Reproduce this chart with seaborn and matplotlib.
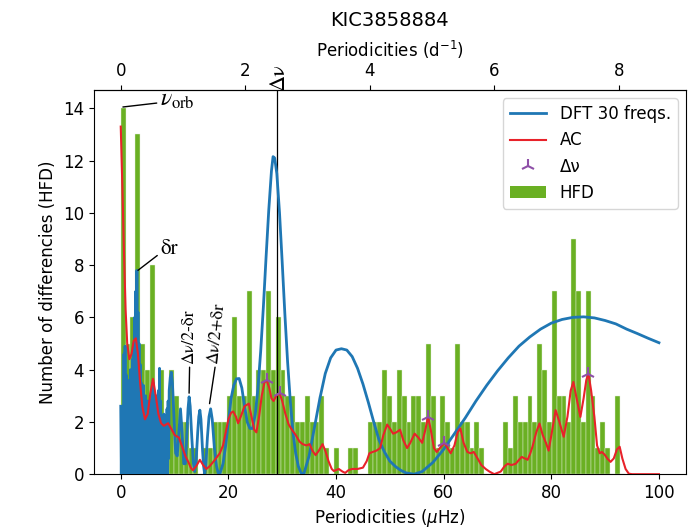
import numpy as np
import pandas as pd
import matplotlib
matplotlib.use('Agg')
import matplotlib.pyplot as plt
import matplotlib.transforms as mtransforms
from matplotlib.lines import Line2D
from matplotlib.patches import Patch
import seaborn as sns

# ---------------- data ----------------
hfd_bin_width = 0.9
hfd_counts = [14, 5, 6, 13, 5, 4, 8, 3, 4, 2, 4, 3, 2, 2, 1, 1, 0, 1, 1, 2,
              2, 2, 3, 6, 3, 3, 7, 3, 4, 4, 7, 4, 6, 4, 3, 3, 2, 2, 3, 2,
              2, 3, 1, 0, 1, 0, 0, 1, 1, 0, 0, 2, 2, 2, 4, 3, 2, 4, 3, 2,
              3, 3, 2, 5, 3, 1, 3, 2, 1, 5, 2, 2, 1, 2, 1, 0, 0, 0, 0, 2,
              1, 3, 2, 2, 3, 2, 5, 4, 2, 7, 3, 3, 2, 9, 7, 2, 7, 3, 1, 2,
              1, 0, 3, 0]

dft_freq = [0.0, 0.1, 0.2, 0.3, 0.4, 0.5, 0.6, 0.7, 0.8, 0.9, 1.0, 1.1, 1.2, 1.3, 1.4,
            1.5, 1.6, 1.7, 1.8, 1.9, 2.0, 2.1, 2.2, 2.3, 2.4, 2.5, 2.6, 2.7, 2.8, 2.9,
            3.0, 3.1, 3.2, 3.3, 3.4, 3.5, 3.6, 3.7, 3.8, 3.9, 4.0, 4.1, 4.2, 4.3, 4.4,
            4.5, 4.6, 4.7, 4.8, 4.9, 5.0, 5.1, 5.2, 5.3, 5.4, 5.5, 5.6, 5.7, 5.8, 5.9,
            6.0, 6.1, 6.2, 6.3, 6.4, 6.5, 6.6, 6.7, 6.8, 6.9, 7.0, 7.1, 7.2, 7.3, 7.4,
            7.5, 7.6, 7.7, 7.8, 7.9, 8.0, 8.1, 8.2, 8.3, 8.4, 8.5, 8.6, 8.7, 8.8, 8.9,
            9.0, 9.2, 9.4, 9.6, 9.8, 10.0, 10.2, 10.5, 10.8, 11.1, 11.4, 11.7, 12.0,
            12.3, 12.5, 12.7, 12.9, 13.2, 13.5, 13.75, 14.0, 14.3, 14.5, 14.7, 14.9,
            15.2, 15.4, 15.6, 15.8, 16.1, 16.4, 16.7, 17.0, 17.4, 17.8, 18.1, 18.4,
            19.0, 19.5, 20.0, 20.5, 21.0, 21.5, 22.0, 22.5, 23.0, 23.5, 24.0, 24.5,
            25.0, 25.5, 26.0, 26.5, 27.0, 27.5, 28.0, 28.3, 28.6, 29.0, 29.5, 30.0,
            30.5, 31.0, 31.5, 32.0, 32.5, 33.0, 33.5, 34.0, 35.0, 36.0, 37.0, 38.0,
            39.0, 40.0, 41.0, 42.0, 43.0, 44.0, 45.0, 46.0, 47.0, 48.0, 49.0, 50.0,
            51.0, 52.0, 53.0, 54.5, 56.0, 58.0, 60.0, 62.0, 64.0, 66.0, 68.0, 70.0,
            72.0, 74.0, 76.0, 78.0, 80.0, 82.0, 84.0, 86.0, 88.0, 90.0, 92.0, 94.0,
            96.0, 98.0, 100.0]
dft_amp = [2.6, 0.0, 2.5, 0.1, 2.6, 0.0, 4.6, 0.2, 4.9, 0.0, 3.8, 0.1, 3.4, 0.0, 2.8,
           0.1, 3.6, 0.0, 4.0, 0.2, 3.2, 0.0, 4.4, 0.1, 5.0, 0.0, 6.0, 0.3, 7.0, 0.0,
           7.8, 0.2, 6.2, 0.0, 5.0, 0.1, 4.2, 0.0, 3.5, 0.2, 3.0, 0.0, 3.4, 0.1, 2.6,
           0.0, 3.0, 0.2, 2.4, 0.0, 2.8, 0.1, 2.2, 0.0, 2.8, 0.2, 2.5, 0.0, 3.2, 0.1,
           3.5, 0.0, 3.0, 0.2, 2.6, 0.0, 3.0, 0.1, 2.4, 0.0, 3.2, 0.3, 4.05, 0.2, 2.8,
           0.0, 2.2, 0.1, 2.0, 0.0, 2.3, 0.2, 1.8, 0.0, 2.2, 0.1, 2.5, 0.0, 2.8, 0.6,
           3.2, 3.7, 3.9, 3.5, 2.6, 1.6, 0.8, 0.7, 1.6, 2.5, 1.6, 0.4, 0.4,
           1.6, 2.5, 2.96, 2.6, 1.4, 0.4, 0.1, 0.5, 1.6, 2.2, 2.45, 2.1,
           0.9, 0.3, 0.0, 0.3, 1.4, 2.2, 2.5, 2.1, 1.0, 0.3, 0.05, 0.0,
           0.4, 1.1, 2.0, 2.9, 3.4, 3.65, 3.66, 3.3, 2.6, 2.0, 1.75, 1.75,
           2.3, 3.3, 4.7, 6.4, 8.3, 10.1, 11.6, 12.15, 12.1, 11.5, 10.0, 8.1,
           6.1, 4.3, 2.8, 1.6, 0.8, 0.3, 0.05, 0.0, 0.7, 1.8, 2.9, 3.85,
           4.45, 4.75, 4.8, 4.75, 4.5, 4.05, 3.45, 2.75, 2.0, 1.3, 0.85, 0.5,
           0.3, 0.15, 0.05, 0.0, 0.1, 0.45, 0.95, 1.55, 2.15, 2.8, 3.4, 3.95,
           4.45, 4.9, 5.25, 5.55, 5.78, 5.92, 6.0, 6.02, 5.98, 5.88, 5.75, 5.55,
           5.38, 5.2, 5.03]

ac_freq = [0.0, 0.3, 0.6, 0.9, 1.2, 1.6, 2.0, 2.4, 2.8, 3.2, 3.6, 4.0, 4.5, 5.0, 5.5,
           6.0, 6.5, 7.0, 7.5, 8.0, 8.8, 9.5, 10.0, 10.8, 11.5, 12.0, 12.6, 13.0, 13.4,
           14.0, 14.7, 15.3, 15.9, 16.5, 17.5, 18.4, 19.0, 19.5, 20.0, 20.5, 20.9,
           21.4, 21.8, 22.3, 23.0, 23.8, 24.3, 24.8, 25.2, 25.7, 26.2, 26.7, 27.1,
           27.6, 28.0, 28.4, 28.9, 29.5, 30.0, 30.6, 31.2, 31.8, 32.5, 33.2, 33.8,
           34.5, 35.1, 35.6, 36.2, 36.8, 37.5, 38.0, 38.6, 39.2, 39.6, 40.5, 41.2,
           41.7, 42.3, 43.0, 44.0, 45.0, 45.7, 46.2, 46.8, 47.5, 48.2, 48.8, 49.5,
           50.0, 50.6, 51.2, 51.9, 52.5, 53.2, 53.8, 54.6, 55.3, 56.0, 56.6, 57.1,
           57.6, 58.2, 58.7, 59.3, 60.1, 60.7, 61.3, 62.0, 62.6, 63.1, 63.7, 64.4,
           65.0, 65.6, 66.3, 67.0, 67.8, 68.5, 69.4, 70.6, 71.3, 71.9, 72.6, 73.4,
           74.0, 74.5, 75.1, 75.6, 76.1, 76.5, 77.2, 77.8, 78.4, 79.0, 79.5, 80.1,
           80.8, 81.5, 82.3, 83.0, 83.6, 84.1, 84.7, 85.4, 86.0, 86.5, 86.9, 87.4,
           88.0, 88.5, 89.0, 89.4, 89.9, 90.4, 91.0, 91.6, 92.2, 92.7, 93.2, 93.8,
           94.4, 95.0, 100.0]
ac_val = [13.3, 11.0, 8.5, 6.3, 5.0, 4.4, 4.6, 5.1, 5.2, 4.6, 3.5, 2.6, 2.1, 2.3, 3.1,
          3.65, 3.0, 2.3, 1.95, 1.85, 1.95, 1.7, 1.5, 1.4, 1.0, 0.7, 0.45, 0.25, 0.15,
          0.3, 0.55, 0.35, 0.2, 0.3, 0.55, 0.8, 1.1, 1.6, 2.1, 2.35, 2.4,
          2.2, 1.95, 2.2, 2.6, 2.7, 2.2, 1.7, 1.6, 2.2, 3.0, 3.5, 3.6,
          3.3, 2.9, 2.8, 3.0, 3.1, 2.8, 2.3, 1.9, 1.7, 1.5, 1.25, 1.15,
          1.1, 1.15, 0.9, 0.73, 0.9, 1.15, 0.9, 0.5, 0.2, 0.12, 0.2, 0.1,
          0.05, 0.15, 0.2, 0.2, 0.25, 0.5, 0.8, 0.85, 0.9, 1.0, 1.5, 1.9,
          1.75, 1.55, 1.6, 1.7, 1.3, 1.0, 1.2, 1.55, 1.4, 1.2, 1.7, 2.2,
          1.7, 1.0, 0.85, 1.0, 1.2, 1.0, 0.8, 1.1, 1.6, 1.75, 1.2, 0.85,
          0.8, 0.85, 0.6, 0.35, 0.2, 0.1, 0.0, 0.1, 0.3, 0.4, 0.35, 0.4,
          0.55, 0.66, 0.6, 0.55, 0.8, 1.05, 1.6, 1.94, 1.5, 1.2, 0.9, 1.6,
          2.45, 2.0, 1.43, 2.2, 3.2, 3.53, 2.9, 2.19, 2.9, 3.6, 3.85, 3.2,
          2.2, 1.1, 0.8, 0.85, 0.75, 0.6, 0.47, 0.6, 0.95, 1.05, 0.6, 0.2,
          0.02, 0.0, 0.0]

dnu_freq = [27.1, 29.5, 57.1, 60.1, 86.9]
dnu_val = [3.6, 3.1, 2.2, 1.2, 3.85]
delta_nu = 29.1
uhz_per_cd = 11.574

# ---------------- style ----------------
c_dft = '#1f77b4'
c_ac = '#e8222a'
c_dnu = '#8e4fa8'
c_hfd = '#6ab023'
serif = ['STIXGeneral', 'Liberation Serif', 'DejaVu Serif']

fig = plt.figure(figsize=(6.9, 5.31), dpi=100)
ax = fig.add_axes([0.136, 0.107, 0.858, 0.7235])

edges = np.arange(len(hfd_counts) + 1) * hfd_bin_width
hfd_df = pd.DataFrame({'freq': edges[:-1] + hfd_bin_width / 2,
                       'count': hfd_counts})
sns.histplot(data=hfd_df, x='freq', weights='count', bins=list(edges), ax=ax,
             color=c_hfd, alpha=1.0, edgecolor='#e6f0dc', linewidth=0.3, zorder=1)

ax.axvline(delta_nu, color='black', lw=0.9, zorder=2)
sns.lineplot(x=dft_freq, y=dft_amp, ax=ax, color=c_dft, lw=2.0, zorder=3,
             estimator=None, sort=False)
sns.lineplot(x=ac_freq, y=ac_val, ax=ax, color=c_ac, lw=1.5, zorder=4,
             estimator=None, sort=False)
ax.plot(dnu_freq, dnu_val, linestyle='none', marker='2', color=c_dnu,
        markersize=10, markeredgewidth=1.5, zorder=5)

ax.set_xlim(-5, 105)
ax.set_ylim(0, 14.7)
ax.set_xticks([0, 20, 40, 60, 80, 100])
ax.set_yticks([0, 2, 4, 6, 8, 10, 12, 14])
ax.tick_params(labelsize=12)
ax.set_xlabel(r'Periodicities ($\mu$Hz)', fontsize=12)
ax.set_ylabel('Number of differencies (HFD)', fontsize=12)

secax = ax.secondary_xaxis('top', functions=(lambda x: x / uhz_per_cd,
                                             lambda x: x * uhz_per_cd))
secax.set_xticks([0, 2, 4, 6, 8])
secax.tick_params(labelsize=12)
secax.set_xlabel(r'Periodicities (d$^{-1}$)', fontsize=12)

fig.text(0.565, 1 - 20 / 531, 'KIC3858884', ha='center', va='center', fontsize=14)

# annotations
trans = mtransforms.blended_transform_factory(ax.transData, ax.transAxes)
ax.text(delta_nu + 0.3, 1.0, 'Δν', transform=trans, rotation=90, ha='center',
        va='bottom', fontsize=16, family=serif, clip_on=False)
ax.annotate(r'$\nu_{\rm orb}$', xy=(0.4, 14.05), xytext=(7.2, 14.35),
            ha='left', va='center', fontsize=17, math_fontfamily='stix',
            arrowprops=dict(arrowstyle='-', color='black', lw=1.0,
                            relpos=(0, 0.35), shrinkA=0, shrinkB=0),
            annotation_clip=False)
ax.annotate('δr', xy=(3.2, 7.8), xytext=(7.3, 8.6), ha='left', va='center',
            fontsize=15, family=serif,
            arrowprops=dict(arrowstyle='-', color='black', lw=1.0,
                            relpos=(0, 0.3), shrinkA=0, shrinkB=0))
ax.annotate('Δν/2-δr', xy=(12.7, 3.1), xytext=(12.8, 4.2), rotation=90,
            ha='center', va='bottom', fontsize=12.5, family=serif,
            arrowprops=dict(arrowstyle='-', color='black', lw=1.0,
                            relpos=(0.5, 0), shrinkA=0, shrinkB=0))
ax.annotate('Δν/2+δr', xy=(16.5, 2.7), xytext=(17.6, 4.2), rotation=84,
            ha='center', va='bottom', fontsize=12.5, family=serif,
            arrowprops=dict(arrowstyle='-', color='black', lw=1.0,
                            relpos=(0.5, 0), shrinkA=0, shrinkB=0))

handles = [Line2D([], [], color=c_dft, lw=2.0),
           Line2D([], [], color=c_ac, lw=1.5),
           Line2D([], [], linestyle='none', marker='2', color=c_dnu,
                  markersize=10, markeredgewidth=1.5),
           Patch(facecolor=c_hfd, edgecolor='none')]
labels = ['DFT 30 freqs.', 'AC', 'Δν', 'HFD']
ax.legend(handles, labels, loc='upper right', fontsize=12, handlelength=2.2)

fig.savefig('out.png', dpi=100)
